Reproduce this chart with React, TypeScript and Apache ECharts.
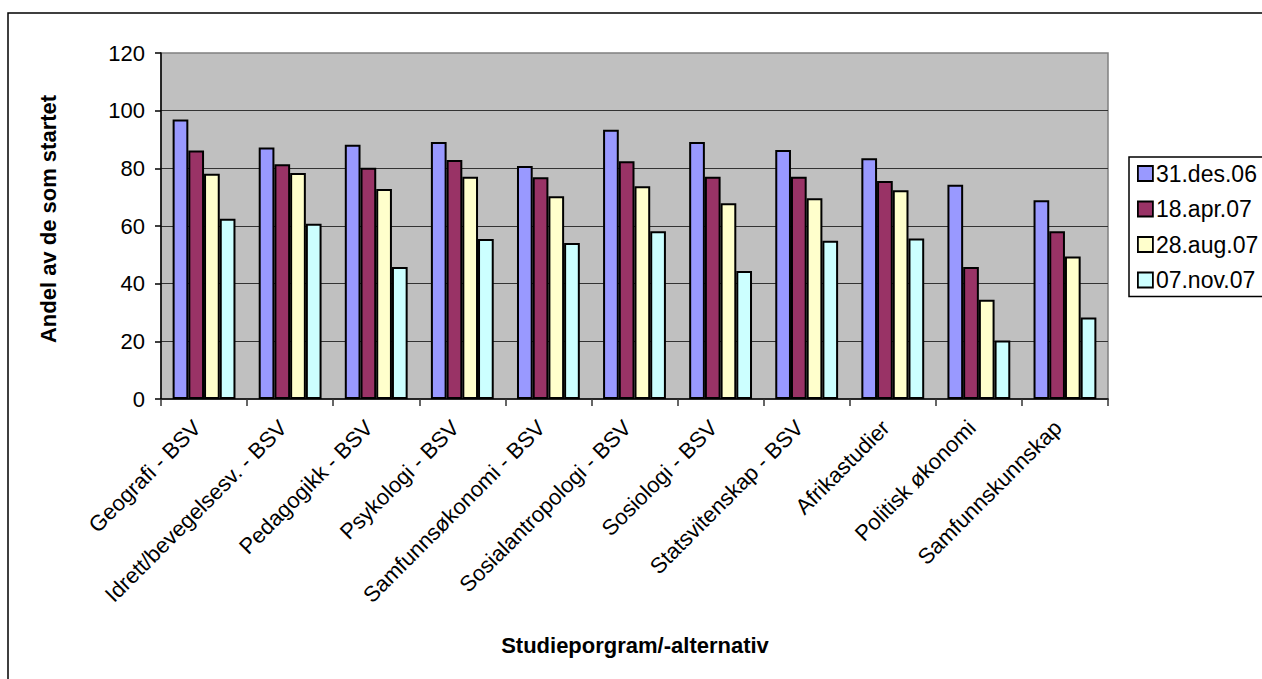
import React, { useEffect, useRef } from "react";
import * as echarts from "echarts";

const categories = [
  "Geografi - BSV",
  "Idrett/bevegelsesv. - BSV",
  "Pedagogikk - BSV",
  "Psykologi - BSV",
  "Samfunnsøkonomi - BSV",
  "Sosialantropologi - BSV",
  "Sosiologi - BSV",
  "Statsvitenskap - BSV",
  "Afrikastudier",
  "Politisk økonomi",
  "Samfunnskunnskap",
];

const seriesNames = ["31.des.06", "18.apr.07", "28.aug.07", "07.nov.07"];

const des06 = [96.9, 87.2, 88.2, 89.1, 80.8, 93.4, 89.1, 86.4, 83.5, 74.3, 68.9];
const apr07 = [86.2, 81.4, 80.2, 82.9, 76.9, 82.5, 77.1, 77.1, 75.6, 45.8, 58.2];
const aug07 = [78.1, 78.4, 72.8, 77.1, 70.3, 73.8, 67.9, 69.6, 72.4, 34.4, 49.4];
const nov07 = [62.5, 60.8, 45.8, 55.5, 54.1, 58.2, 44.4, 54.9, 55.7, 20.3, 28.3];

const seriesValues = [des06, apr07, aug07, nov07];
const colors = ["#9999FF", "#993366", "#FFFFCC", "#CCFFFF"];

const yTicks = { min: 0, max: 120, interval: 20 };

const FONT = "Arial, 'Liberation Sans', sans-serif";

export default function App() {
  const ref = useRef<HTMLDivElement>(null);

  useEffect(() => {
    if (!ref.current) return;
    const chart = echarts.init(ref.current, undefined, { renderer: "svg" });
    const option: any = {
      animation: false,
      backgroundColor: "#FFFFFF",
      textStyle: { fontFamily: FONT, color: "#000" },
      graphic: [
        {
          type: "rect",
          shape: { x: 8, y: 13, width: 1400, height: 800 },
          style: { fill: "none", stroke: "#000", lineWidth: 1.5 },
          z: -1,
          silent: true,
        },
        {
          type: "text",
          x: 48,
          y: 219,
          rotation: Math.PI / 2,
          style: {
            text: "Andel av de som startet",
            font: `bold 22px ${FONT}`,
            fill: "#000",
            align: "center",
            verticalAlign: "middle",
          },
        },
        {
          type: "text",
          x: 635,
          y: 645,
          style: {
            text: "Studieporgram/-alternativ",
            font: `bold 22px ${FONT}`,
            fill: "#000",
            align: "center",
            verticalAlign: "middle",
          },
        },
      ],
      grid: {
        left: 161,
        top: 53,
        right: 1262 - 1108,
        bottom: 679 - 399,
        show: true,
        backgroundColor: "#C0C0C0",
        borderColor: "#808080",
        borderWidth: 1.5,
        containLabel: false,
      },
      legend: {
        orient: "vertical",
        left: 1129,
        top: 157,
        padding: [5, 10, 5, 8],
        itemWidth: 15,
        itemHeight: 15,
        itemGap: 12.5,
        borderColor: "#000",
        borderWidth: 1.5,
        backgroundColor: "#FFFFFF",
        icon: "rect",
        itemStyle: { borderColor: "#000", borderWidth: 1.8 },
        textStyle: { fontSize: 23, fontFamily: FONT, color: "#000", padding: [0, 0, 0, -2] },
        data: seriesNames,
      },
      xAxis: {
        type: "category",
        data: categories,
        axisLine: { show: true, lineStyle: { color: "#000", width: 1.5 } },
        axisTick: { show: true, length: 7, lineStyle: { color: "#333", width: 1.5 } },
        axisLabel: {
          rotate: 45,
          interval: 0,
          margin: 18,
          padding: [0, 10, 0, 0],
          fontSize: 22,
          fontFamily: FONT,
          color: "#000",
        },
        splitLine: { show: false },
      },
      yAxis: {
        type: "value",
        min: yTicks.min,
        max: yTicks.max,
        interval: yTicks.interval,
        axisLine: { show: true, lineStyle: { color: "#000", width: 1.5 } },
        axisTick: { show: true, length: 6, lineStyle: { color: "#000", width: 1.5 } },
        axisLabel: { margin: 16, fontSize: 22, fontFamily: FONT, color: "#000" },
        splitLine: {
          show: true,
          showMinLine: false,
          showMaxLine: false,
          lineStyle: { color: "#333", width: 1 },
        },
      },
      series: seriesNames.map((name, i) => ({
        name,
        type: "bar",
        data: seriesValues[i],
        barGap: "0%",
        barCategoryGap: "27%",
        itemStyle: { color: colors[i], borderColor: "#000", borderWidth: 2 },
      })),
    };
    chart.setOption(option);
    return () => chart.dispose();
  }, []);

  return (
    <div
      ref={ref}
      style={{ position: "absolute", left: 0, top: 0, width: 1262, height: 679 }}
    />
  );
}
